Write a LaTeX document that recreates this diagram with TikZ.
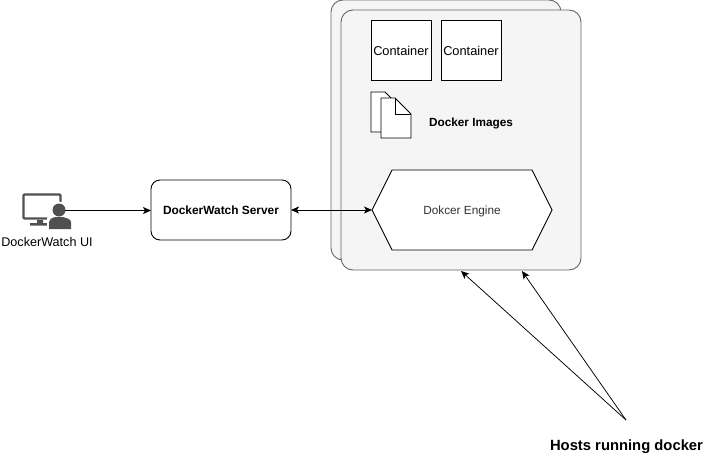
\documentclass[tikz,border=0pt]{standalone}
\usepackage{fontspec}
\setmainfont{Liberation Sans}
\usetikzlibrary{arrows.meta}
\usetikzlibrary{shapes.symbols}
\definecolor{hostfill}{HTML}{F5F5F5}
\definecolor{hostline}{HTML}{666666}
\definecolor{iconcol}{HTML}{505050}
\tikzset{
	conn/.style={draw=black,line width=0.9pt,-{Stealth[length=8pt,width=7pt,inset=2pt]}},
	biconn/.style={draw=black,line width=0.9pt,{Stealth[length=8pt,width=7pt,inset=2pt]}-{Stealth[length=8pt,width=7pt,inset=2pt]}},
	thinconn/.style={draw=black,line width=0.75pt,-{Stealth[length=8pt,width=7pt,inset=2pt]}},
	hostbox/.style={draw=hostline,fill=hostfill,line width=0.9pt,rounded corners=12pt,minimum height=260pt,outer sep=0pt,inner sep=0pt},
	containerbox/.style={draw=black,fill=white,line width=0.9pt,minimum width=60pt,minimum height=60pt,outer sep=0pt,inner sep=0pt,font=\fontsize{12.8}{15}\selectfont},
	label/.style={inner sep=0pt,font=\fontsize{11.8}{14}\selectfont\bfseries},
	page/.style={draw=black,fill=white,line width=0.9pt,line join=miter}
}
\begin{document}
\begin{tikzpicture}[x=1pt,y=-1pt]
	\useasboundingbox (0,0) rectangle (722,471);

	\node[hostbox,minimum width=230pt] (hostback) at (446,130) {};
	\node[hostbox,minimum width=240pt] (hostfront) at (461,140) {};

	\node[containerbox] (container1) at (401,50.5) {Container};
	\node[containerbox] (container2) at (471,50.5) {Container};

	% image pages
	\draw[page] (371,92) -- (385,92) -- (401,108) -- (401,132) -- (371,132) -- cycle;
	\draw[page] (381,98) -- (395,98) -- (411,114) -- (411,138) -- (381,138) -- cycle;
	\draw[page,fill=none] (395,98) -- (395,114) -- (411,114);
	\node[label] (images) at (471,123.5) {Docker Images};

	\node[draw=black,fill=white,line width=0.9pt,shape=signal,signal from=nowhere,signal to=east and west,signal pointer angle=126.87,minimum width=180pt,minimum height=80pt,inner sep=0pt,outer sep=0pt,text=black!80,text depth=0pt,font=\fontsize{11.8}{14}\selectfont] (engine) at (462,210) {Dokcer Engine};

	\node[draw=black,fill=white,line width=0.9pt,rounded corners=9pt,minimum width=140pt,minimum height=60pt,outer sep=0pt,inner sep=0pt,font=\fontsize{11.9}{14}\selectfont\bfseries] (server) at (221,210) {DockerWatch Server};

	% ui icon
	\draw[iconcol,line width=2.4pt,rounded corners=1pt] (47,218.5) -- (23.5,218.5) -- (23.5,194.5) -- (60.5,194.5) -- (60.5,204);
	\fill[iconcol] (37,220) rectangle (43,223) (30,223) rectangle (49,225.5);
	\fill[white] (59,210) circle (8.5);
	\fill[white] (47,229) -- (47,219) -- (73,219) -- (73,229) -- cycle;
	\fill[iconcol] (59,210) circle (6.5);
	\fill[iconcol] (49,229) -- (49,222) .. controls (49,219) and (52,218) .. (55,217) -- (63,217) .. controls (66,218) and (71,219) .. (71,222) -- (71,229) -- cycle;
	\coordinate (uiout) at (65,210.5);
	\node[label,font=\fontsize{12.6}{15}\selectfont] (uilabel) at (47,241.5) {DockerWatch UI};

	\coordinate (hostsout) at (626,420);
	\coordinate (hosttip1) at (461,271);
	\coordinate (hosttip2) at (522,271);
	\node[label,font=\fontsize{14.8}{18}\selectfont\bfseries] (hosts) at (626.5,446.5) {Hosts running docker};

	\draw[conn] (uiout) -- (server.west |- uiout);
	\draw[biconn] (server.east) -- (engine.west);
	\draw[thinconn] (hostsout) -- (hosttip1);
	\draw[thinconn] (hostsout) -- (hosttip2);
\end{tikzpicture}
\end{document}
